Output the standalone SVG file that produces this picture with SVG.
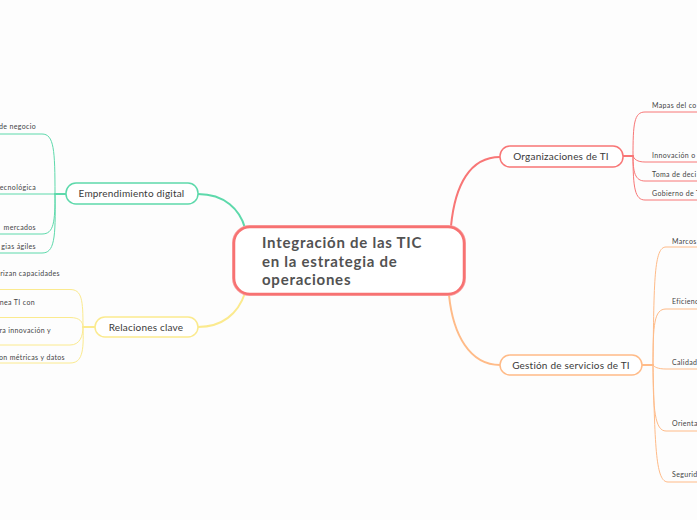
<svg xmlns="http://www.w3.org/2000/svg" width="697" height="520" viewBox="0 0 697 520">
<style>
  .bg{fill:#fdfdfd}
  .main{font-family:Lato,"Liberation Sans",sans-serif;font-size:15px;font-weight:bold;fill:#525252;letter-spacing:0.75px}
  .topic{font-family:Lato,"Liberation Sans",sans-serif;font-size:10px;fill:#3a3a3a;text-anchor:middle;letter-spacing:0.2px}
  .sub{font-family:Lato,"Liberation Sans",sans-serif;font-size:7px;fill:#444;letter-spacing:0.35px}
  .end{text-anchor:end}
  .box{fill:#fff;stroke-width:1.5}
  .c{fill:none;stroke-linecap:round}
  .green{stroke:#5dd9ab}
  .yellow{stroke:#fbea8e}
  .red{stroke:#f87676}
  .orange{stroke:#ffbb88}
  .thick{stroke-width:2}
  .thin{stroke-width:1}
</style>
<rect class="bg" x="0" y="0" width="697" height="520"/>

<g id="connectors">
  <path class="c green thick" d="M198,194 C225,194 240,210 245,228"/>
  <path class="c yellow thick" d="M198,327 C222,327 238,314 245,293"/>
  <path class="c red thick" d="M500,157 C470,157 455,185 451,226"/>
  <path class="c orange thick" d="M449,295 C453,335 470,365 500,365"/>

  <!-- Emprendimiento digital subtopics -->
  <path class="c green thick" d="M66,194 H55"/>
  <path class="c green thin" d="M55,194 C55,150 54,134 42,134 H0"/>
  <path class="c green thin" d="M55,194 H0"/>
  <path class="c green thin" d="M55,194 C55,222 54,234 42,234 H0"/>
  <path class="c green thin" d="M55,194 C56,240 54,253 42,253 H0"/>

  <!-- Relaciones clave subtopics -->
  <path class="c yellow thick" d="M95,327 H83"/>
  <path class="c yellow thin" d="M83,327 C83,300 82,289.5 70,289.5 H0"/>
  <path class="c yellow thin" d="M83,327 C83,322 80,317.5 70,317.5 H0"/>
  <path class="c yellow thin" d="M83,327 C83,336 80,345 70,345 H0"/>
  <path class="c yellow thin" d="M83,327 C84,352 82,363 70,363 H0"/>

  <!-- Organizaciones de TI subtopics -->
  <path class="c red thick" d="M623,156 H633"/>
  <path class="c red thin" d="M633,156 C633,124 634,112 645,112 H697"/>
  <path class="c red thin" d="M633,156 C634,159 637,162 645,162 H697"/>
  <path class="c red thin" d="M633,156 C633,172 635,181 645,181 H697"/>
  <path class="c red thin" d="M633,156 C633,188 635,200 645,200 H697"/>

  <!-- Gestión de servicios de TI subtopics -->
  <path class="c orange thick" d="M642,365 H653"/>
  <path class="c orange thin" d="M653,365 C654,280 654,247 666,247 H697"/>
  <path class="c orange thin" d="M653,365 C653,325 654,309 666,309 H697"/>
  <path class="c orange thin" d="M653,365 C654,367 658,369 666,369 H697"/>
  <path class="c orange thin" d="M653,365 C653,410 655,431 666,431 H697"/>
  <path class="c orange thin" d="M653,365 C655,450 656,482 668,482 H697"/>
</g>

<g id="central">
  <rect x="234" y="227" width="230" height="67" rx="16" fill="#fff" stroke="#f9a0a0" stroke-width="4"/>
  <rect x="234" y="227" width="230" height="67" rx="16" fill="#fff" stroke="#f77272" stroke-width="2.5"/>
  <text class="main" x="262" y="248">Integración de las TIC</text>
  <text class="main" x="262" y="266.5">en la estrategia de</text>
  <text class="main" x="262" y="285">operaciones</text>
</g>

<g id="emprendimiento">
  <rect class="box green" x="66" y="183" width="132" height="21" rx="10"/>
  <text class="topic" x="131.5" y="197">Emprendimiento digital</text>
  <text class="sub end" x="36" y="129">de negocio</text>
  <text class="sub end" x="36" y="190">tecnológica</text>
  <text class="sub end" x="36" y="230">mercados</text>
  <text class="sub end" x="36" y="249">gias ágiles</text>
</g>

<g id="relaciones">
  <rect class="box yellow" x="95" y="317" width="103" height="20" rx="10"/>
  <text class="topic" x="146" y="330.5">Relaciones clave</text>
  <text class="sub end" x="60" y="276">rizan capacidades</text>
  <text class="sub end" x="35" y="304.5">nea TI con</text>
  <text class="sub end" x="51" y="332.5">ra innovación y</text>
  <text class="sub end" x="65" y="360">on métricas y datos</text>
</g>

<g id="organizaciones">
  <rect class="box red" x="500" y="146" width="123" height="21" rx="10"/>
  <text class="topic" x="561" y="160">Organizaciones de TI</text>
  <text class="sub" x="652" y="107.5">Mapas del co</text>
  <text class="sub" x="652" y="157.5">Innovación o</text>
  <text class="sub" x="652" y="176.5">Toma de deci</text>
  <text class="sub" x="652" y="195.5">Gobierno de T</text>
</g>

<g id="gestion">
  <rect class="box orange" x="500" y="355" width="142" height="20" rx="10"/>
  <text class="topic" x="571" y="368.5">Gestión de servicios de TI</text>
  <text class="sub" x="672" y="243.5">Marcos</text>
  <text class="sub" x="672" y="303.5">Eficienc</text>
  <text class="sub" x="672" y="364.5">Calidad</text>
  <text class="sub" x="672" y="425.5">Orienta</text>
  <text class="sub" x="672" y="476.5">Segurid</text>
</g>
</svg>
